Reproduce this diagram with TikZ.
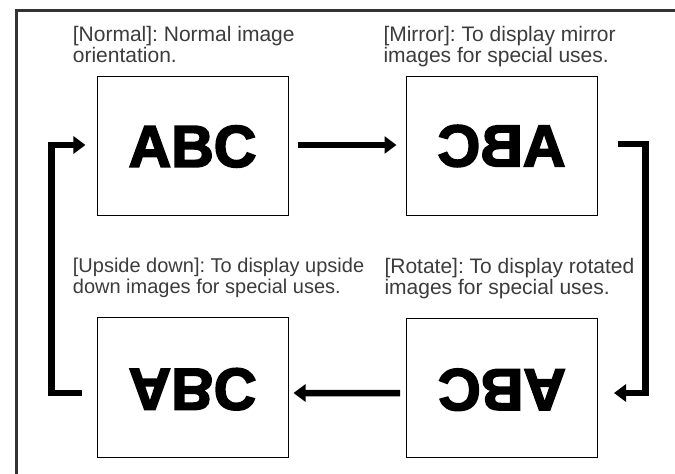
\documentclass[tikz,border=0pt]{standalone}
\usepackage{fontspec}
\setmainfont{Liberation Sans}
\newfontfamily\heavy{Liberation Sans}[BoldFeatures={FakeBold=3}]
\usetikzlibrary{arrows.meta,calc}
\definecolor{framec}{HTML}{333333}
\definecolor{labelc}{HTML}{3C3C3C}
\newcommand{\abc}{{\heavy\bfseries\fontsize{59bp}{59bp}\selectfont ABC}}
\frenchspacing
\begin{document}
\begin{tikzpicture}[x=1bp,y=-1bp,
  imgbox/.style={draw=black,line width=1bp,minimum width=191bp,minimum height=139bp,inner sep=0pt},
  lbl/.style={anchor=north west,inner sep=0pt,align=left,text=labelc,font=\frenchspacing\fontsize{21bp}{20.7bp}\selectfont},
  conn/.style={line width=6.5bp,line join=miter,-{Triangle[length=12bp,width=17bp]}}]
\useasboundingbox (0,0) rectangle (675,474);
\fill[white] (0,0) rectangle (675,474);
\draw[framec,line width=2.5bp] (16.5,480) -- (16.5,10.5) -- (680,10.5);
% boxes
\node[imgbox] (n1) at (192.5,146.5) {\abc};
\node[imgbox] (n2) at (501.5,146) {\scalebox{-1}[1]{\abc}};
\node[imgbox] (n3) at (192.5,387.5) {\raisebox{-4bp}{\scalebox{1}[-1]{\abc}}};
\node[imgbox] (n4) at (502,388) {\raisebox{-4bp}{\rotatebox{180}{\abc}}};
% labels
\node[lbl] (l1) at (72.7,26.4) {[Normal]: Normal image\\orientation.};
\node[lbl] (l2) at (383.3,26.4) {[Mirror]: To display mirror\\images for special uses.};
\node[lbl, font=\frenchspacing\fontsize{20bp}{20.7bp}\selectfont] (l3) at (72.7,258) {[Upside down]: To display upside\\down images for special uses.};
\node[lbl] (l4) at (384.3,258) {[Rotate]: To display rotated\\images for special uses.};
% connectors
\draw[conn] ($(n1.east)+(9,-1.5)$) -- ($(n2.west)+(-9,-1)$);
\draw[conn] ($(n2.east)+(20,-2)$) -- ++(28,0) |- ($(n4.east)+(16,5)$);
\draw[conn] ($(n4.west)+(-6,5)$) -- ($(n3.east)+(5,5.5)$);
\draw[conn] ($(n3.west)+(-15,5.5)$) -- ++(-30,0) |- ($(n1.west)+(-11,-1.5)$);
\end{tikzpicture}
\end{document}
